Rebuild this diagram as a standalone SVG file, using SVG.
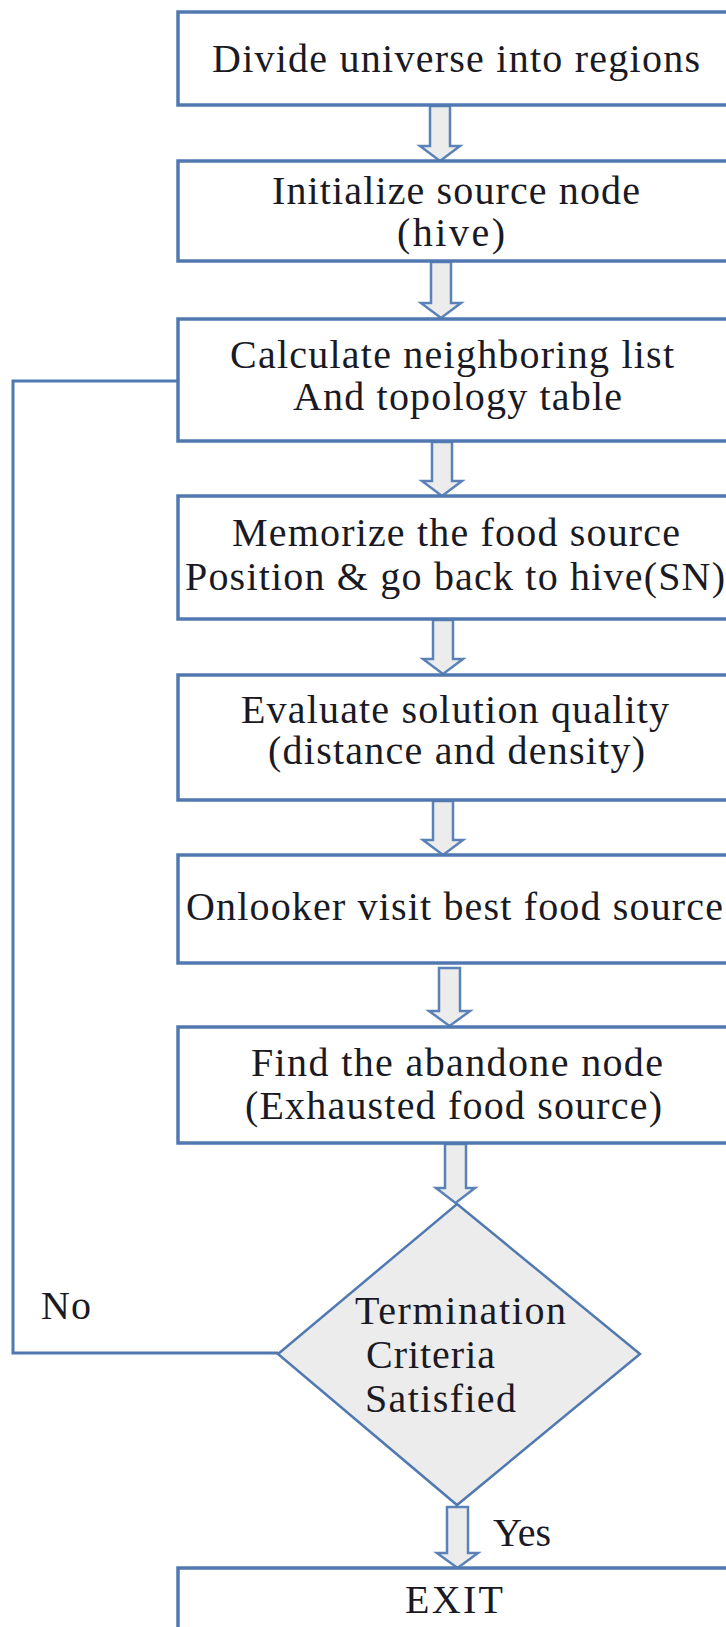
<svg xmlns="http://www.w3.org/2000/svg" width="726" height="1627" viewBox="0 0 726 1627">
<style>
.box{fill:#ffffff;stroke:#5179b1;stroke-width:3.5}
.dia{fill:#ececec;stroke:#5179b1;stroke-width:2.5}
.arr{fill:#ececec;stroke:#5a82b8;stroke-width:2.5;stroke-linejoin:miter}
.con{fill:none;stroke:#5179b1;stroke-width:3}
text{font-family:"Liberation Serif","Times New Roman",serif;font-size:40px;fill:#1a1a24}
</style>
<rect width="726" height="1627" fill="#ffffff"/>
<g id="connectors">
<path class="arr" d="M430,106 L450,106 L450,146 L460,146 L440,161 L420,146 L430,146 Z"/>
<path class="arr" d="M431,262 L451,262 L451,303 L461,303 L441,318 L421,303 L431,303 Z"/>
<path class="arr" d="M432,442 L452,442 L452,481 L462,481 L442,496 L422,481 L432,481 Z"/>
<path class="arr" d="M433,620 L453,620 L453,659 L463,659 L443,674 L423,659 L433,659 Z"/>
<path class="arr" d="M433,801 L453,801 L453,840 L463,840 L443,855 L423,840 L433,840 Z"/>
<path class="arr" d="M439,968 L460,968 L460,1011 L470,1011 L449.5,1026 L429,1011 L439,1011 Z"/>
<path class="arr" d="M445,1144 L466,1144 L466,1188 L475,1188 L455.5,1203 L436,1188 L445,1188 Z"/>
<path class="arr" d="M447,1507 L468,1507 L468,1553 L478,1553 L457.5,1568 L437,1553 L447,1553 Z"/>
<path class="con" d="M278,1353 L13,1353 L13,381 L178,381"/>
</g>
<g id="n1"><rect class="box" x="178" y="12" width="600" height="93"/>
<text x="212" y="72" textLength="488" lengthAdjust="spacing">Divide universe into regions</text></g>
<g id="n2"><rect class="box" x="178" y="161" width="600" height="100"/>
<text x="272" y="204" textLength="368" lengthAdjust="spacing">Initialize source node</text>
<text x="397" y="246" textLength="108" lengthAdjust="spacing">(hive)</text></g>
<g id="n3"><rect class="box" x="178" y="319" width="600" height="122"/>
<text x="230" y="368" textLength="444" lengthAdjust="spacing">Calculate neighboring list</text>
<text x="293" y="410" textLength="329" lengthAdjust="spacing">And topology table</text></g>
<g id="n4"><rect class="box" x="178" y="496" width="600" height="123"/>
<text x="232" y="546" textLength="448" lengthAdjust="spacing">Memorize the food source</text>
<text x="185" y="590" textLength="540" lengthAdjust="spacing">Position &amp; go back to hive(SN)</text></g>
<g id="n5"><rect class="box" x="178" y="675" width="600" height="125"/>
<text x="241" y="723" textLength="428" lengthAdjust="spacing">Evaluate solution quality</text>
<text x="268" y="764" textLength="377" lengthAdjust="spacing">(distance and density)</text></g>
<g id="n6"><rect class="box" x="178" y="855" width="600" height="108"/>
<text x="186" y="920" textLength="537" lengthAdjust="spacing">Onlooker visit best food source</text></g>
<g id="n7"><rect class="box" x="178" y="1027" width="600" height="116"/>
<text x="251" y="1076" textLength="412" lengthAdjust="spacing">Find the abandone node</text>
<text x="245" y="1119" textLength="417" lengthAdjust="spacing">(Exhausted food source)</text></g>
<g id="n8"><path class="dia" d="M457,1204 L640,1354 L457,1505 L278,1354 Z"/>
<text x="355" y="1324" textLength="211" lengthAdjust="spacing">Termination</text>
<text x="366" y="1368" textLength="129" lengthAdjust="spacing">Criteria</text>
<text x="365" y="1412" textLength="151" lengthAdjust="spacing">Satisfied</text></g>
<g id="n9"><rect class="box" x="178" y="1568" width="600" height="100"/>
<text x="405" y="1613" textLength="98" lengthAdjust="spacing">EXIT</text></g>
<g id="labels">
<text x="41" y="1319" textLength="50" lengthAdjust="spacing">No</text>
<text x="493" y="1546" textLength="58" lengthAdjust="spacing">Yes</text>
</g>
</svg>
